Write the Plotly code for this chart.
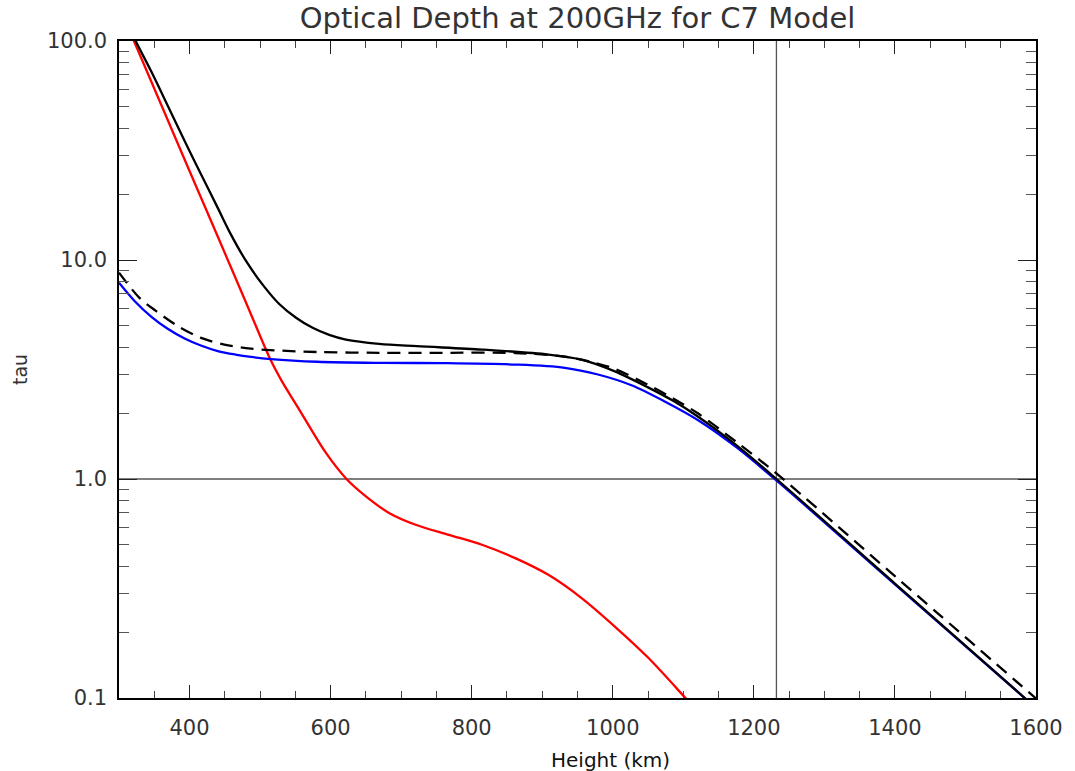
import math
import plotly.graph_objects as go

# ---- data ----
red_x = [300, 320, 360, 400, 440, 480, 515, 530, 555.7, 593.4, 622.5, 650, 682.8,
         720.5, 767.5, 814.5, 861.7, 908.7, 955.8, 1002.9, 1050, 1101.8, 1120]
red_tau = [144, 102, 51, 25.5, 12.8, 6.4, 3.49, 2.83, 2.07, 1.315, 1.0, 0.833, 0.70,
           0.618, 0.556, 0.501, 0.435, 0.365, 0.286, 0.212, 0.153, 0.101, 0.087]

black_x = [300, 322.3, 345.8, 369.3, 392.9, 416.4, 440, 458, 480.5, 503.9, 527.5, 551,
           574.5, 598, 621.7, 668.7, 722, 814.6, 908.7, 955.8, 1003, 1050, 1085,
           1120.5, 1176, 1232, 1400, 1584, 1600]
black_tau = [145, 102, 72.5, 50.5, 35.0, 24.6, 17.3, 13.2, 9.85, 7.7, 6.28, 5.45,
             4.9, 4.55, 4.33, 4.14, 4.04, 3.90, 3.70, 3.51, 3.10, 2.62, 2.28,
             1.93, 1.42, 1.0, 0.333, 0.1, 0.09]

blue_x = [300, 322, 346, 369, 393, 416, 440, 465, 487, 515, 581, 673, 760, 862, 932, 979,
          1026.5, 1073.6, 1120.5, 1176, 1232, 1400, 1584, 1600]
blue_tau = [7.87, 6.5, 5.5, 4.85, 4.38, 4.07, 3.84, 3.70, 3.61, 3.53, 3.43, 3.39, 3.38,
            3.33, 3.22, 3.00, 2.68, 2.26, 1.86, 1.39, 0.985, 0.33, 0.1, 0.09]

dash_x = [300, 329, 352.8, 383.5, 416.4, 449.4, 487, 520, 581, 668.7, 760, 862, 932,
          970, 1003, 1050, 1085, 1120, 1176, 1232, 1400, 1600]
dash_tau = [8.75, 6.72, 5.84, 4.99, 4.41, 4.11, 3.94, 3.87, 3.80, 3.77, 3.77, 3.76, 3.62,
            3.42, 3.18, 2.69, 2.34, 2.0, 1.47, 1.06, 0.36, 0.0995]

ref_tau = 1.0
ref_height = 1232

x_ticks = [400, 600, 800, 1000, 1200, 1400, 1600]
y_ticks = [0.1, 1, 10, 100]
y_ticktext = ["0.1", "1.0", "10.0", "100.0"]

x_range = [300, 1600]
y_range = [0.1, 100]

title = "Optical Depth at 200GHz for C7 Model"
x_title = "Height (km)"
y_title = "tau"

# ---- figure ----
fig = go.Figure()

fig.add_trace(go.Scatter(x=x_range, y=[ref_tau, ref_tau], mode="lines",
                         line=dict(color="#555555", width=1.3), hoverinfo="skip"))
fig.add_trace(go.Scatter(x=[ref_height, ref_height], y=y_range, mode="lines",
                         line=dict(color="#555555", width=1.3), hoverinfo="skip"))

SM = 0.9
fig.add_trace(go.Scatter(x=red_x, y=red_tau, mode="lines",
                         line=dict(color="#ff0000", width=2.3, shape="spline", smoothing=SM)))
fig.add_trace(go.Scatter(x=blue_x, y=blue_tau, mode="lines",
                         line=dict(color="#0000ff", width=2.3, shape="spline", smoothing=SM)))
fig.add_trace(go.Scatter(x=dash_x, y=dash_tau, mode="lines",
                         line=dict(color="#000000", width=2.3, dash="13px,8px",
                                   shape="spline", smoothing=SM)))
fig.add_trace(go.Scatter(x=black_x, y=black_tau, mode="lines",
                         line=dict(color="#000000", width=2.3, shape="spline", smoothing=SM)))

minor_y = [m * 10 ** d for d in range(-1, 2) for m in range(2, 10)]

font_family = "DejaVu Sans"
fig.update_layout(
    width=1075, height=771,
    margin=dict(l=119, r=34, t=41, b=73),
    paper_bgcolor="white", plot_bgcolor="white",
    showlegend=False,
    font=dict(family=font_family, color="#333333"),
    title=dict(text=title, x=0.5, xanchor="center", xref="paper", y=1 - 18 / 771,
               yanchor="middle", font=dict(size=29, color="#333333", family=font_family)),
    xaxis=dict(range=x_range, showgrid=False, zeroline=False,
               showline=True, linecolor="black", linewidth=1.5, mirror="allticks",
               ticks="inside", ticklen=13, tickwidth=1.2, tickcolor="#222222",
               tickvals=x_ticks, ticklabelstandoff=10,
               tickfont=dict(size=21, color="#333333"),
               minor=dict(ticks="inside", ticklen=7, tickwidth=1.2, tickcolor="#444444",
                          dtick=50, tick0=300, showgrid=False)),
    yaxis=dict(type="log", range=[math.log10(y_range[0]), math.log10(y_range[1])],
               showgrid=False, zeroline=False,
               showline=True, linecolor="black", linewidth=1.5, mirror="allticks",
               ticks="inside", ticklen=18, tickwidth=1.2, tickcolor="#222222",
               tickvals=y_ticks, ticktext=y_ticktext, ticklabelstandoff=6,
               tickfont=dict(size=21, color="#333333"),
               minor=dict(ticks="inside", ticklen=10, tickwidth=1.2, tickcolor="#555555",
                          tickvals=minor_y, showgrid=False)),
)

fig.add_annotation(text=x_title, xref="paper", yref="paper",
                   x=(613 - 119) / (1041 - 119), y=-(760 - 698) / (698 - 41),
                   xanchor="center", yanchor="middle", showarrow=False,
                   font=dict(size=20, color="#111111", family=font_family))
fig.add_annotation(text=y_title, xref="paper", yref="paper",
                   x=-(119 - 19) / (1041 - 119), y=0.5, textangle=-90,
                   xanchor="center", yanchor="middle", showarrow=False,
                   font=dict(size=19, color="#333333", family=font_family))

fig.write_html("out.html")
